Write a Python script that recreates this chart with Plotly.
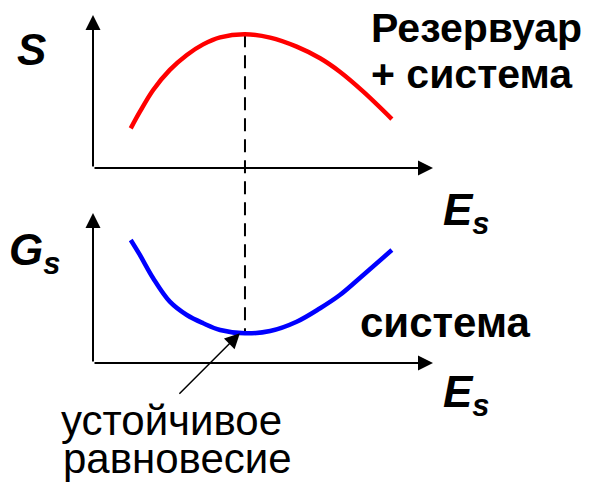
import plotly.graph_objects as go

# page body has an 8px margin: the figure is drawn at (8, 8) in the window
OFF = 8
W, H = 597 - OFF, 490 - OFF

# ---- data (arbitrary units) ----
E_top = [1.11, 1.38, 1.77, 2.26, 2.76, 3.24, 3.74, 4.47, 5.21, 5.99, 6.68, 7.26, 7.95, 8.79]
S_top = [2.59, 3.68, 5.10, 6.41, 7.39, 8.08, 8.54, 8.74, 8.52, 7.93, 7.17, 6.29, 4.99, 3.20]
E_bot = [1.11, 1.38, 1.77, 2.26, 2.76, 3.24, 3.74, 4.47, 5.21, 5.99, 6.68, 7.26, 7.95, 8.79]
G_bot = [8.20, 7.20, 5.65, 4.09, 3.20, 2.65, 2.20, 1.98, 2.13, 2.75, 3.65, 4.53, 5.87, 7.53]
E_eq = 4.47

X_RANGE = [0, 10]
Y_RANGE = [0, 10]

# ---- layout helpers (window pixels -> paper) ----
def px(x):
    return (x - OFF) / W

def py(y):
    return 1 - (y - OFF) / H

x_dom = [px(93), px(433)]
top_dom = [py(168), py(15)]
bot_dom = [py(363), py(213)]

def data2paper(v, dom, rng):
    return dom[0] + (v - rng[0]) / (rng[1] - rng[0]) * (dom[1] - dom[0])

fig = go.Figure()
fig.add_trace(go.Scatter(x=E_top, y=S_top, mode="lines", xaxis="x", yaxis="y",
                         line=dict(color="#FF0000", width=4.5, shape="spline", smoothing=1),
                         cliponaxis=False, hoverinfo="skip"))
fig.add_trace(go.Scatter(x=E_bot, y=G_bot, mode="lines", xaxis="x2", yaxis="y2",
                         line=dict(color="#0000FF", width=4.5, shape="spline", smoothing=1),
                         cliponaxis=False, hoverinfo="skip"))

ax_common = dict(showgrid=False, zeroline=False, showticklabels=False, showline=False,
                 ticks="", fixedrange=True)
fig.update_layout(
    width=W, height=H, margin=dict(l=0, r=0, t=0, b=0),
    paper_bgcolor="white", plot_bgcolor="rgba(0,0,0,0)", showlegend=False,
    xaxis=dict(domain=x_dom, range=X_RANGE, anchor="y", **ax_common),
    yaxis=dict(domain=top_dom, range=Y_RANGE, anchor="x", **ax_common),
    xaxis2=dict(domain=x_dom, range=X_RANGE, anchor="y2", **ax_common),
    yaxis2=dict(domain=bot_dom, range=Y_RANGE, anchor="x2", **ax_common),
    font=dict(family="Liberation Sans, Arial, sans-serif", color="black"),
)

# dashed equilibrium line from S max to G min
s_max = max(S_top)
g_min = min(G_bot)
fig.add_shape(type="line", xref="x", yref="paper", x0=E_eq, x1=E_eq,
              y0=data2paper(s_max, top_dom, Y_RANGE), y1=data2paper(g_min, bot_dom, Y_RANGE),
              line=dict(color="black", width=2, dash="13px,8px"), layer="below")

# axes with arrows
ann = []
for xr, yr in (("x", "y"), ("x2", "y2")):
    ann.append(dict(xref=xr, yref=yr, axref=xr, ayref=yr, x=X_RANGE[1], y=Y_RANGE[0],
                    ax=X_RANGE[0], ay=Y_RANGE[0], showarrow=True, arrowhead=2,
                    arrowwidth=2, arrowsize=1.5, arrowcolor="black", text=""))
    ann.append(dict(xref=xr, yref=yr, axref=xr, ayref=yr, x=X_RANGE[0], y=Y_RANGE[1],
                    ax=X_RANGE[0], ay=Y_RANGE[0], showarrow=True, arrowhead=2,
                    arrowwidth=2, arrowsize=1.5, arrowcolor="black", text=""))

# pointer arrow to the equilibrium
ann.append(dict(xref="x2", yref="y2", x=E_eq - 0.15, y=g_min, ax=-62, ay=62,
                showarrow=True, arrowhead=2, arrowwidth=1.5, arrowsize=2,
                arrowcolor="black", text="", standoff=0))

def label(text, x, y, size, anchor="left", yanchor="middle"):
    ann.append(dict(xref="paper", yref="paper", x=px(x), y=py(y), xanchor=anchor,
                    yanchor=yanchor, text=text, showarrow=False, borderpad=0,
                    font=dict(size=size, color="black")))

label("<b><i>S</i></b>", 16, 49, 44)
label("<b><i>G<sub>s</sub></i></b>", 8, 253, 44)
label("<b><i>E<sub>s</sub></i></b>", 442, 213, 44)
label("<b><i>E<sub>s</sub></i></b>", 442, 395, 44)
label("<b>Резервуар</b>", 370, 28, 41)
label("<b>+ система</b>", 370, 74, 41)
label("<b>система</b>", 359, 322, 42)
label("устойчивое", 60, 420, 42)
label("равновесие", 62, 458, 42)

fig.update_layout(annotations=ann)
fig.write_html("out.html")
